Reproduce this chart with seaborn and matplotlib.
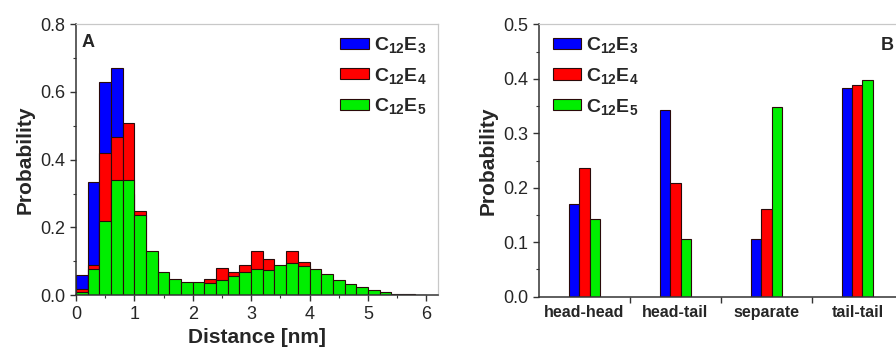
import numpy as np
import pandas as pd
import matplotlib
matplotlib.use("Agg")
import matplotlib.pyplot as plt
from matplotlib.patches import Patch
from matplotlib.ticker import MultipleLocator, FormatStrFormatter
import seaborn as sns

# ---------------- data ----------------
# Panel A: distance histogram, bin width 0.2 nm (bin centers)
bin_centers = [0.1, 0.3, 0.5, 0.7, 0.9, 1.1, 1.3, 1.5, 1.7, 1.9,
               2.1, 2.3, 2.5, 2.7, 2.9, 3.1, 3.3, 3.5, 3.7, 3.9,
               4.1, 4.3, 4.5, 4.7, 4.9, 5.1, 5.3, 5.5, 5.7, 5.9]
prob_e3 = [0.058, 0.334, 0.628, 0.671, 0.30, 0.12, 0.06, 0.03, 0.02, 0.02,
           0.02, 0.02, 0.02, 0.02, 0.02, 0.02, 0.02, 0.02, 0.02, 0.02,
           0.01, 0.01, 0.01, 0.005, 0.0, 0.0, 0.0, 0.0, 0.0, 0.0]
prob_e4 = [0.017, 0.088, 0.419, 0.468, 0.507, 0.248, 0.11, 0.04, 0.04, 0.035,
           0.035, 0.049, 0.079, 0.069, 0.089, 0.130, 0.108, 0.08, 0.130, 0.099,
           0.07, 0.04, 0.02, 0.01, 0.005, 0.0, 0.0, 0.0, 0.0, 0.0]
prob_e5 = [0.009, 0.076, 0.220, 0.340, 0.340, 0.236, 0.130, 0.067, 0.049, 0.038,
           0.038, 0.036, 0.044, 0.056, 0.069, 0.076, 0.074, 0.089, 0.094, 0.087,
           0.078, 0.063, 0.046, 0.033, 0.025, 0.014, 0.008, 0.004, 0.002, 0.001]
bin_width = 0.2
bin_range = (0.0, 6.0)

# Panel B: pair configuration probabilities
pairs = ["head-head", "head-tail", "separate", "tail-tail"]
pair_e3 = [0.171, 0.343, 0.106, 0.383]
pair_e4 = [0.237, 0.209, 0.161, 0.388]
pair_e5 = [0.143, 0.106, 0.348, 0.398]

series_names = [r"$\mathbf{C}_{\mathbf{12}}\mathbf{E}_{\mathbf{3}}$",
                r"$\mathbf{C}_{\mathbf{12}}\mathbf{E}_{\mathbf{4}}$",
                r"$\mathbf{C}_{\mathbf{12}}\mathbf{E}_{\mathbf{5}}$"]
colors = ["#0000ff", "#ff0000", "#00ee00"]

# ---------------- style ----------------
sns.set_style("ticks")
plt.rcParams["font.family"] = ["Liberation Sans", "DejaVu Sans"]
plt.rcParams["mathtext.fontset"] = "custom"
plt.rcParams["mathtext.rm"] = "Liberation Sans:bold"
plt.rcParams["mathtext.it"] = "Liberation Sans:bold"
plt.rcParams["mathtext.bf"] = "Liberation Sans:bold"

fig = plt.figure(figsize=(8.96, 3.56), dpi=100)
axA = fig.add_axes([0.0848, 0.171, 0.404, 0.761])
axB = fig.add_axes([0.6016, 0.1666, 0.406, 0.765])

edge = "#2a0a0a"

# ---------------- panel A ----------------
for vals, c in zip([prob_e3, prob_e4, prob_e5], colors):
    dfa = pd.DataFrame({"dist": bin_centers, "prob": vals})
    sns.histplot(data=dfa, x="dist", weights="prob", binwidth=bin_width,
                 binrange=bin_range, color=c, alpha=1, edgecolor=edge,
                 linewidth=0.8, ax=axA)
axA.set_xlim(0, 6.2)
axA.set_ylim(0, 0.8)
axA.xaxis.set_major_locator(MultipleLocator(1))
axA.xaxis.set_minor_locator(MultipleLocator(0.5))
axA.yaxis.set_major_locator(MultipleLocator(0.2))
axA.yaxis.set_minor_locator(MultipleLocator(0.1))
axA.yaxis.set_major_formatter(FormatStrFormatter("%.1f"))
axA.set_xlabel("Distance [nm]", fontsize=15, fontweight="bold", labelpad=4)
axA.set_ylabel("Probability", fontsize=15, fontweight="bold", labelpad=4)
axA.text(0.015, 0.965, "A", transform=axA.transAxes, fontsize=13,
         fontweight="bold", va="top", ha="left")

# ---------------- panel B ----------------
df = pd.DataFrame({
    "pair": pairs * 3,
    "prob": pair_e3 + pair_e4 + pair_e5,
    "surf": [series_names[0]] * 4 + [series_names[1]] * 4 + [series_names[2]] * 4,
})
sns.barplot(data=df, x="pair", y="prob", hue="surf", palette=colors,
            width=0.34, saturation=1, edgecolor=edge, linewidth=0.8,
            legend=False, ax=axB)
axB.set_xlim(-0.5, 3.5)
axB.set_ylim(0, 0.5)
axB.yaxis.set_major_locator(MultipleLocator(0.1))
axB.yaxis.set_minor_locator(MultipleLocator(0.05))
axB.yaxis.set_major_formatter(FormatStrFormatter("%.1f"))
axB.set_xticks([0.5, 1.5, 2.5, 3.5])
axB.set_xticklabels([])
axB.set_xticks([0, 1, 2, 3], minor=True)
axB.set_xticklabels(pairs, minor=True, fontsize=11.5, fontweight="bold")
axB.set_xlabel("")
axB.set_ylabel("Probability", fontsize=15, fontweight="bold", labelpad=4)
axB.text(0.94, 0.952, "B", transform=axB.transAxes, fontsize=13,
         fontweight="bold", va="top", ha="left")

# ---------------- shared styling ----------------
for ax in (axA, axB):
    ax.tick_params(axis="both", which="major", labelsize=13, length=4,
                   width=1, direction="out", color="#333333")
    ax.tick_params(axis="both", which="minor", length=2.5, width=0.8,
                   direction="out", color="#333333")
    for s in ("left", "bottom"):
        ax.spines[s].set_color("#333333")
        ax.spines[s].set_linewidth(1.1)
    for s in ("top", "right"):
        ax.spines[s].set_visible(True)
        ax.spines[s].set_color("#c8c8c8")
        ax.spines[s].set_linewidth(0.9)
axB.tick_params(axis="x", which="minor", length=0, pad=6)

handles = [Patch(facecolor=c, edgecolor=edge, linewidth=0.8, label=n)
           for c, n in zip(colors, series_names)]
leg_kw = dict(frameon=False, fontsize=14, handlelength=1.45,
              handleheight=0.5, labelspacing=0.55, handletextpad=0.25,
              borderaxespad=0.3)
axA.legend(handles=handles, loc="upper right",
           bbox_to_anchor=(1.005, 1.01), **leg_kw)
axB.legend(handles=handles, loc="upper left",
           bbox_to_anchor=(0.0, 1.01), **leg_kw)

fig.savefig("out.png", dpi=100)
